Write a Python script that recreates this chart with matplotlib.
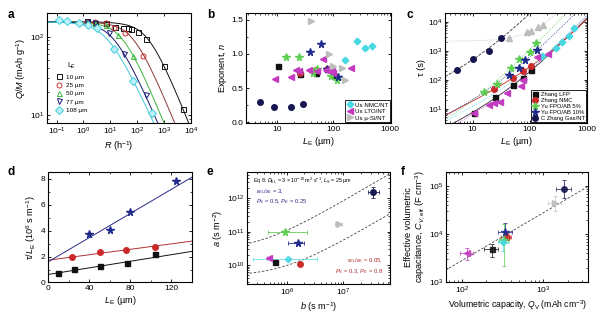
import numpy as np
import matplotlib
matplotlib.use('Agg')
import matplotlib.pyplot as plt
from matplotlib.ticker import LogLocator, MultipleLocator, FuncFormatter

plt.rcParams['font.family'] = ['Liberation Sans', 'DejaVu Sans']
plt.rcParams['mathtext.fontset'] = 'custom'
plt.rcParams['mathtext.rm'] = 'Liberation Sans'
plt.rcParams['mathtext.it'] = 'Liberation Sans:italic'
plt.rcParams['mathtext.bf'] = 'Liberation Sans:bold'

# ---------------- panel a: rate data, Q/M vs R for several L_E
a_labels = ['10 µm', '25 µm', '50 µm', '77 µm', '108 µm']
a_R = [[1.34, 2.75, 7.1, 15.5, 29, 45, 60, 105, 210, 1000, 4900],
       [1.34, 2.75, 7.1, 14, 35, 166],
       [1.34, 2.75, 7.1, 18.7, 71],
       [1.34, 2.75, 8.7, 31.6, 210],
       [0.126, 0.25, 0.71, 1.54, 3.2, 14, 71, 347]]
a_Q = [[158, 151, 148, 133, 130, 128, 125, 114, 94, 42, 12.2],
       [155, 152, 151, 128, 112, 56],
       [154, 150, 142, 104, 56],
       [153, 148, 112, 61, 18.3],
       [161, 158, 151, 141, 128, 70, 27, 10.7]]
# fit parameters (Q0, tau [h], n)
a_Q0 = [155, 155, 155, 155, 155]
a_tau = [0.00159, 0.0056, 0.014, 0.028, 0.046]
a_n = [0.87, 0.85, 0.85, 0.8, 0.76]
a_edge = ['#111111', '#cc3333', '#3cb83c', '#1a1a7a', '#40d0e0']
a_line = ['#111111', '#8b3a3a', '#3cb83c', '#1a1a6a', '#40c8d8']
a_mark = ['s', 'o', '^', 'v', 'D']

# ---------------- series shared by panels b, c, e, f
names = ['Zhang LFP', 'Zhang NMC', 'Yu FPO/AB 5%', 'Yu FPO/AB 10%',
         'C Zhang Gas/NT', 'Us NMC/NT', 'Us LTO/NT', 'Us µ-Si/NT']
colors = ['#111111', '#cc2a2a', '#5ccf50', '#1f2a8a', '#15154f',
          '#48d8e2', '#c23bc0', '#bdbdbd']
markers = ['s', 'o', '*', '*', 'o', 'D', '<', '>']
msizes = [3.6, 4.0, 5.5, 5.5, 4.0, 3.4, 4.0, 4.0]

# panel b: exponent n vs L_E
b_L = [[10.3, 25, 49, 76, 104],
       [25, 49, 76, 100],
       [14.6, 24.8, 44, 52, 89, 117],
       [38.7, 60, 76, 122],
       [4.9, 8.9, 17.6, 28.6],
       [161, 265, 370, 474],
       [9, 17.6, 21.8, 24, 37, 52, 65, 74, 93, 100, 202],
       [40, 84, 100, 140, 161]]
b_n = [[0.82, 0.71, 0.72, 0.78, 0.68],
       [0.72, 0.76, 0.78, 0.74],
       [0.96, 0.96, 0.72, 0.78, 0.68, 0.62],
       [1.03, 1.15, 0.78, 0.67],
       [0.29, 0.23, 0.22, 0.27],
       [0.91, 1.19, 1.09, 1.12],
       [0.64, 0.67, 0.77, 0.75, 0.77, 0.75, 0.92, 0.76, 0.75, 0.72, 0.79],
       [1.48, 1.0, 0.83, 0.79, 0.62]]

# panel c: tau vs L_E
c_L = [[10.7, 25, 50, 77, 104],
       [23.5, 50, 76, 104],
       [15.6, 26.3, 47, 63.5, 99, 129],
       [43, 63.5, 83, 135],
       [5.3, 10, 19.1, 31.5],
       [165, 282, 370, 480, 590],
       [10.8, 19.6, 24, 29.8, 40, 69, 76, 135, 210],
       [43, 88, 107, 138, 172]]
c_tau = [[7, 25, 63, 117, 215],
         [48, 117, 200, 290],
         [39, 68.5, 254, 510, 870, 1800],
         [149, 262, 470, 1050],
         [223, 497, 968, 2690],
         [660, 1200, 2040, 3300, 6300],
         [7.1, 13.8, 15.3, 17.5, 34, 60, 95, 600, 800],
         [2700, 4400, 4600, 6800, 7800]]
c_tau0 = [0, 0, 0, 0, 0, 0, 0, 2100]
c_ls = ['-', '-', ':', ':', '--', ':', ':', ':']

# panel d: tau/L_E vs L_E (10^6 s m^-1)
d_idx = [0, 1, 3]
d_L = [[9.8, 25.2, 50, 76.9, 104],
       [23.5, 50, 75.9, 104],
       [40.2, 59.8, 79.4, 124.2]]
d_y = [[0.76, 1.02, 1.25, 1.49, 2.18],
       [1.95, 2.38, 2.54, 2.77],
       [3.73, 4.06, 5.43, 7.8]]

# panel e: fitted a and b
e_b = [6.2e5, 1.72e6, 9.3e5, 1.6e6, 3.3e7, 1.04e6, 4.9e5, 8.4e6]
e_b_lo = [5.8e5, 1.62e6, 4.7e5, 1.07e6, 2.7e7, 2.6e5, 4.5e5, 7.1e6]
e_b_hi = [6.6e5, 1.82e6, 2.25e6, 2.0e6, 4.2e7, 3.4e6, 5.3e5, 9.3e6]
e_a = [1.27e10, 1.05e10, 1.0e11, 4.65e10, 1.6e12, 1.48e10, 1.59e10, 1.66e11]
e_a_lo = [1.2e10, 0.98e10, 0.95e11, 4.4e10, 1.05e12, 1.4e10, 1.5e10, 1.55e11]
e_a_hi = [1.34e10, 1.12e10, 1.05e11, 4.9e10, 2.2e12, 1.56e10, 1.68e10, 1.77e11]
e_model_a0 = [2.7e10, 4.5e9]
e_model_k = [8.3e4, 5.2e3]

# panel f: effective capacitance vs volumetric capacity
f_Q = [233, 355, 330, 340, 1800, 318, 117, 1380]
f_Q_lo = [185, 305, 290, 280, 1450, 275, 95, 1150]
f_Q_hi = [280, 405, 375, 410, 2220, 365, 139, 1660]
f_C = [4900, 8900, 7600, 11300, 89000, 6800, 4000, 46000]
f_C_lo = [3300, 7600, 2200, 7000, 56000, 4500, 2900, 30000]
f_C_hi = [6300, 10500, 16000, 17500, 135000, 9000, 5100, 62000]
f_slope = 28.0

TICK = 6
LAB = 6.6
LEG = 4.6


def style(ax):
    ax.tick_params(which='both', direction='in', top=True, right=True,
                   labelsize=TICK, pad=2)
    ax.tick_params(which='major', length=2.5, width=0.6)
    ax.tick_params(which='minor', length=1.4, width=0.5)
    for s in ax.spines.values():
        s.set_linewidth(0.8)


def rate_model(R, q0, tau, n):
    x = (R * tau) ** n
    return q0 * (1 - x * (1 - np.exp(-1 / x)))


plain = FuncFormatter(lambda v, p: f'{v:g}')
fig = plt.figure(figsize=(6, 3.24), dpi=100)

# ---- a
ax = fig.add_axes([0.0783, 0.6204, 0.24, 0.3395])
Rf = np.logspace(-1.4, 4, 300)
for i in range(5):
    ax.plot(Rf, rate_model(Rf, a_Q0[i], a_tau[i], a_n[i]), color=a_line[i], lw=0.7)
for i in range(5):
    fc = '#bff0f5' if i == 4 else 'none'
    ax.plot(a_R[i], a_Q[i], a_mark[i], mfc=fc, mec=a_edge[i], mew=0.7,
            ms=3.6, ls='none', label=a_labels[i])
ax.set_xscale('log'); ax.set_yscale('log')
ax.set_xlim(0.044, 1e4); ax.set_ylim(8, 200)
ax.xaxis.set_major_locator(LogLocator(10, numticks=20))
style(ax)
ax.set_xlabel('$R$ (h$^{-1}$)', fontsize=LAB, labelpad=1.5)
ax.set_ylabel('$Q/M$ (mAh g$^{-1}$)', fontsize=LAB, labelpad=1)
ax.legend(loc='lower left', bbox_to_anchor=(0.03, 0.05), frameon=False,
          fontsize=LEG, title='L$_E$', title_fontsize=5,
          handlelength=1.0, handletextpad=0.6, labelspacing=0.45,
          borderpad=0.2)

# ---- b
ax = fig.add_axes([0.41, 0.6204, 0.2417, 0.3395])
for i in range(8):
    ax.plot(b_L[i], b_n[i], markers[i], color=colors[i], ms=msizes[i], ls='none',
            label=names[i])
ax.set_xscale('log')
ax.set_xlim(2.8, 1050); ax.set_ylim(-0.01, 1.6)
ax.xaxis.set_major_formatter(plain)
ax.yaxis.set_major_locator(MultipleLocator(0.5))
ax.yaxis.set_minor_locator(MultipleLocator(0.25))
ax.yaxis.set_major_formatter(FuncFormatter(lambda v, p: f'{v:.1f}'))
style(ax)
ax.set_xlabel('$L_{\\rm E}$ (µm)', fontsize=LAB, labelpad=1.5)
ax.set_ylabel('Exponent, $n$', fontsize=LAB, labelpad=2)
h, l = ax.get_legend_handles_labels()
ax.legend(h[5:], l[5:], loc='lower right', fontsize=4.4, frameon=True,
          fancybox=False, edgecolor='black', framealpha=1, handlelength=1.0,
          handletextpad=0.4, labelspacing=0.2, borderpad=0.3,
          borderaxespad=0.1).get_frame().set_linewidth(0.6)

# ---- c
ax = fig.add_axes([0.7417, 0.6204, 0.2367, 0.3395])
Lf = np.logspace(np.log10(3.3), 3, 200)
for i in range(8):
    Lm = Lf * 1e-6
    ax.plot(Lf, c_tau0[i] + e_a[i] * Lm ** 2 + e_b[i] * Lm, c_ls[i],
            color=colors[i] if i not in (0, 4) else '#333333', lw=0.6)
for i in range(8):
    mk = '^' if i == 7 else markers[i]
    ax.plot(c_L[i], c_tau[i], mk, color=colors[i], ms=msizes[i], ls='none',
            label=names[i])
ax.set_xscale('log'); ax.set_yscale('log')
ax.set_xlim(3.3, 1000); ax.set_ylim(3.2, 2e4)
ax.xaxis.set_major_formatter(plain)
style(ax)
ax.set_xlabel('$L_{\\rm E}$ (µm)', fontsize=LAB, labelpad=1.5)
ax.set_ylabel('τ (s)', fontsize=LAB, labelpad=1)
h, l = ax.get_legend_handles_labels()
ax.legend(h[:5], l[:5], loc='lower right', fontsize=4.2, frameon=True,
          fancybox=False, edgecolor='black', framealpha=1, handlelength=1.0,
          handletextpad=0.4, labelspacing=0.15, borderpad=0.3,
          borderaxespad=0.1).get_frame().set_linewidth(0.6)

# ---- d
ax = fig.add_axes([0.0805, 0.1281, 0.239, 0.3401])
Lx = np.linspace(0, 140, 50)
dline = {0: '#111111', 1: '#b03030', 3: '#2a2a8a'}
for k, i in enumerate(d_idx):
    ax.plot(Lx, (e_b[i] + e_a[i] * Lx * 1e-6) / 1e6, color=dline[i], lw=0.7)
    ax.plot(d_L[k], d_y[k], markers[i], color=colors[i], ms=msizes[i], ls='none')
ax.set_xlim(0, 140); ax.set_ylim(0, 8.5)
ax.xaxis.set_major_locator(MultipleLocator(40))
ax.xaxis.set_minor_locator(MultipleLocator(20))
ax.yaxis.set_major_locator(MultipleLocator(2))
ax.yaxis.set_minor_locator(MultipleLocator(1))
style(ax)
ax.set_xlabel('$L_{\\rm E}$ (µm)', fontsize=LAB, labelpad=1.5)
ax.set_ylabel('τ/$L_{\\rm E}$ (10$^6$ s m$^{-1}$)', fontsize=LAB, labelpad=2)

# ---- e
ax = fig.add_axes([0.4117, 0.1235, 0.2383, 0.3457])
bx = np.logspace(5.2, 8, 100)
for a0, kk in zip(e_model_a0, e_model_k):
    ax.plot(bx, a0 + kk * bx, '--', color='#444444', lw=0.6, dashes=(3, 2))
for i in range(8):
    xe = [[e_b[i] - e_b_lo[i]], [e_b_hi[i] - e_b[i]]]
    ye = [[e_a[i] - e_a_lo[i]], [e_a_hi[i] - e_a[i]]]
    ax.errorbar([e_b[i]], [e_a[i]], xerr=xe, yerr=ye, fmt=markers[i],
                color=colors[i], ms=msizes[i], elinewidth=0.6, capsize=1.2,
                capthick=0.6, alpha=0.95 if i != 5 else 0.8)
ax.set_xscale('log'); ax.set_yscale('log')
ax.set_xlim(2e5, 6.6e7); ax.set_ylim(2.7e9, 6.2e12)
style(ax)
ax.set_xlabel('$b$ (s m$^{-1}$)', fontsize=LAB, labelpad=1.5)
ax.set_ylabel('$a$ (s m$^{-2}$)', fontsize=LAB, labelpad=1)
ax.text(0.04, 0.92, 'Eq 8: $D_{\\rm EL}$ = 3 × 10$^{-10}$ m$^2$ s$^{-1}$, $L_{\\rm S}$ = 25 µm',
        transform=ax.transAxes, fontsize=3.9, va='center')
ax.text(0.06, 0.78, '$\\epsilon_{\\rm EL}/\\epsilon_{\\rm E}$ = 3,\n$P_{\\rm S}$ = 0.5, $P_{\\rm E}$ = 0.25',
        transform=ax.transAxes, fontsize=4.2, va='center', color='#2a2a8a',
        linespacing=1.3)
ax.text(0.95, 0.16, '$\\epsilon_{\\rm EL}/\\epsilon_{\\rm E}$ = 0.05,\n$P_{\\rm S}$ = 0.3, $P_{\\rm E}$ = 0.8',
        transform=ax.transAxes, fontsize=4.2, va='center', ha='right',
        color='#b03030', linespacing=1.3)

# ---- f
ax = fig.add_axes([0.7433, 0.1296, 0.2375, 0.3395])
qx = np.logspace(1.8, 3.6, 50)
ax.plot(qx, f_slope * qx, '--', color='#444444', lw=0.6, dashes=(3, 2))
for i in range(8):
    xe = [[f_Q[i] - f_Q_lo[i]], [f_Q_hi[i] - f_Q[i]]]
    ye = [[f_C[i] - f_C_lo[i]], [f_C_hi[i] - f_C[i]]]
    ax.errorbar([f_Q[i]], [f_C[i]], xerr=xe, yerr=ye, fmt=markers[i],
                color=colors[i], ms=msizes[i], elinewidth=0.6, capsize=1.2,
                capthick=0.6, alpha=0.85)
ax.set_xscale('log'); ax.set_yscale('log')
ax.set_xlim(64, 3600); ax.set_ylim(1000, 2e5)
style(ax)
ax.set_xlabel('Volumetric capacity, $Q_{\\rm V}$ (mAh cm$^{-3}$)', fontsize=6.2, labelpad=1.5)
ax.set_ylabel('Effective volumetric\ncapacitance, $C_{V,\\rm eff}$ (F cm$^{-3}$)',
              fontsize=LAB, labelpad=1, linespacing=1.1)

for x, y, t in [(0.012, 0.955, 'a'), (0.345, 0.955, 'b'), (0.678, 0.955, 'c'),
                (0.012, 0.47, 'd'), (0.345, 0.47, 'e'), (0.668, 0.47, 'f')]:
    fig.text(x, y, t, fontsize=8.5, fontweight='bold', va='center')

fig.savefig('out.png', dpi=100)
